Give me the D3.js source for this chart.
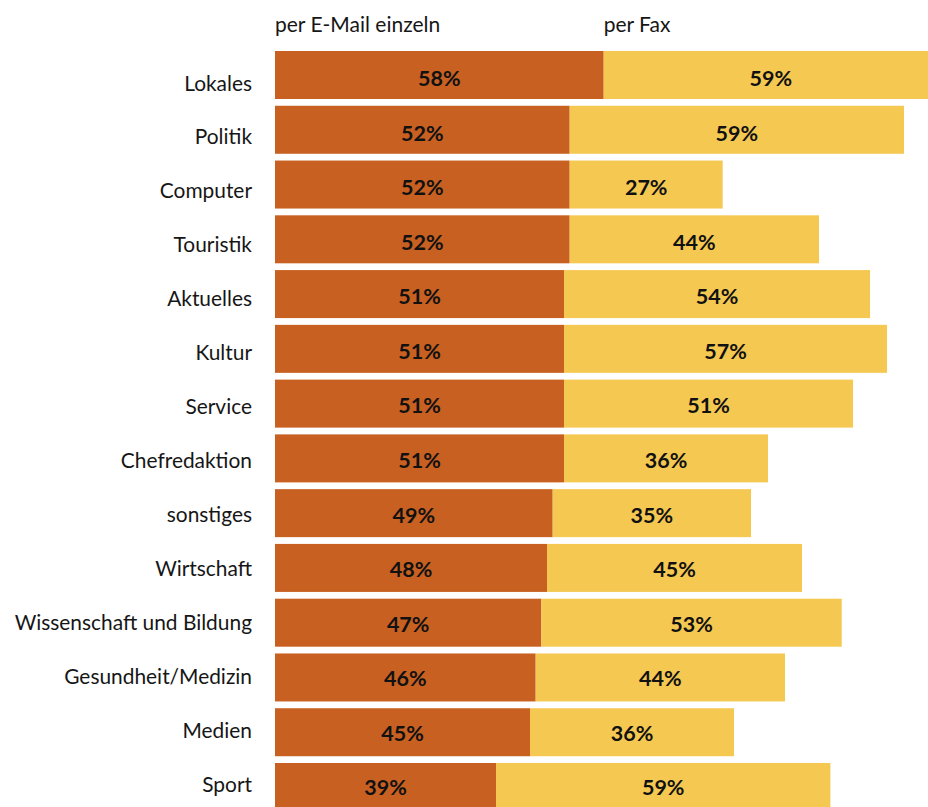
<!DOCTYPE html>
<html>
<head>
<meta charset="utf-8">
<script src="https://cdn.jsdelivr.net/npm/d3@7"></script>
<style>
  html, body { margin: 0; padding: 0; background: #fff; }
  svg { display: block; }
  text { font-family: Lato, "Open Sans", sans-serif; }
</style>
</head>
<body>
<svg id="chart" width="928" height="807"></svg>
<script>
// Themen (Ressorts), in Darstellungsreihenfolge
const categories = [
  "Lokales", "Politik", "Computer", "Touristik", "Aktuelles", "Kultur",
  "Service", "Chefredaktion", "sonstiges", "Wirtschaft",
  "Wissenschaft und Bildung", "Gesundheit/Medizin", "Medien", "Sport"
];
// Anteile in Prozent
const emailValues = [58, 52, 52, 52, 51, 51, 51, 51, 49, 48, 47, 46, 45, 39];
const faxValues   = [59, 59, 27, 44, 54, 57, 51, 36, 35, 45, 53, 44, 36, 59];
const seriesNames = ["per E-Mail einzeln", "per Fax"];
const seriesColors = ["#C76021", "#F5C852"];

const W = 928, H = 807;
const svg = d3.select("#chart");

const rows = categories.map((c, i) => ({ cat: c, email: emailValues[i], fax: faxValues[i] }));

const x = d3.scaleLinear().domain([0, 100]).range([275, 275 + 566.7]);
const y = d3.scaleBand().domain(categories).range([51, 811]).paddingInner(0.1236).paddingOuter(0);
const yLabel = d3.scalePoint().domain(categories).range([83, 784]);
const yValue = d3.scalePoint().domain(categories).range([78.3, 787.6]);

const stack = d3.stack().keys(["email", "fax"]);
const stacked = stack(rows);

const g = svg.append("g");

stacked.forEach((layer, li) => {
  g.append("g")
    .attr("fill", seriesColors[li])
    .selectAll("rect")
    .data(layer)
    .join("rect")
    .attr("x", d => x(d[0]))
    .attr("y", d => y(d.data.cat))
    .attr("width", d => x(d[1]) - x(d[0]))
    .attr("height", y.bandwidth());

  g.append("g")
    .selectAll("text")
    .data(layer)
    .join("text")
    .attr("x", d => (x(d[0]) + x(d[1])) / 2)
    .attr("y", d => yValue(d.data.cat))
    .attr("dy", "0.36em")
    .attr("text-anchor", "middle")
    .attr("font-size", 21.5)
    .attr("font-weight", 700)
    .attr("fill", "#111")
    .text(d => (d[1] - d[0]) + "%");
});

// Kategorienbeschriftung links
g.append("g")
  .selectAll("text")
  .data(categories)
  .join("text")
  .attr("x", 252)
  .attr("y", d => yLabel(d))
  .attr("dy", "0.36em")
  .attr("text-anchor", "end")
  .attr("font-size", 20.9)
  .attr("fill", "#161616")
  .text(d => d);

// Legende über den Balken
const first = stacked[0][0];
g.append("text")
  .attr("x", x(0))
  .attr("y", 32)
  .attr("font-size", 21)
  .attr("fill", "#161616")
  .text(seriesNames[0]);
g.append("text")
  .attr("x", x(first[1]))
  .attr("y", 32)
  .attr("font-size", 21)
  .attr("fill", "#161616")
  .text(seriesNames[1]);
</script>
</body>
</html>
